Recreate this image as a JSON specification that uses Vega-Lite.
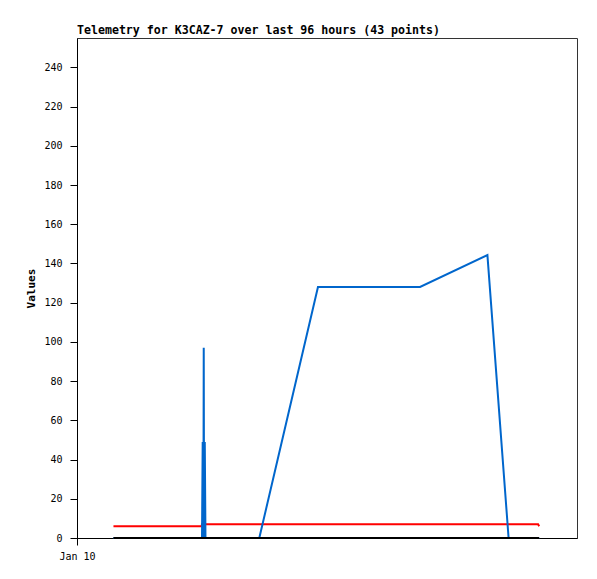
{
  "$schema": "https://vega.github.io/schema/vega-lite/v6.json",
  "autosize": {"type": "none"},
  "padding": {"left": 77, "top": 38, "right": 20, "bottom": 41},
  "width": 500,
  "height": 500,
  "background": "white",
  "title": {
    "text": "Telemetry for K3CAZ-7 over last 96 hours (43 points)",
    "anchor": "start",
    "frame": "group",
    "font": "DejaVu Sans Mono",
    "fontSize": 11.6,
    "fontWeight": "bold",
    "color": "black",
    "offset": 1
  },
  "config": {
    "view": {"stroke": "#333333", "strokeWidth": 1},
    "axis": {
      "grid": false,
      "domainColor": "black",
      "tickColor": "black",
      "labelColor": "black",
      "labelFont": "DejaVu Sans Mono",
      "labelFontSize": 10,
      "titleFont": "DejaVu Sans Mono",
      "titleFontSize": 11,
      "titleFontWeight": "bold",
      "titleColor": "black",
      "tickSize": 7
    }
  },
  "data": {
    "values": [
      {"t": "2024-01-10T01:45:00Z", "v": 0, "s": "blue"},
      {"t": "2024-01-10T04:00:00Z", "v": 0, "s": "blue"},
      {"t": "2024-01-10T06:00:00Z", "v": 0, "s": "blue"},
      {"t": "2024-01-10T06:02:00Z", "v": 49, "s": "blue"},
      {"t": "2024-01-10T06:04:00Z", "v": 0, "s": "blue"},
      {"t": "2024-01-10T06:05:00Z", "v": 97, "s": "blue"},
      {"t": "2024-01-10T06:06:00Z", "v": 0, "s": "blue"},
      {"t": "2024-01-10T06:08:00Z", "v": 49, "s": "blue"},
      {"t": "2024-01-10T06:10:00Z", "v": 0, "s": "blue"},
      {"t": "2024-01-10T08:45:00Z", "v": 0, "s": "blue"},
      {"t": "2024-01-10T11:34:00Z", "v": 128, "s": "blue"},
      {"t": "2024-01-10T16:28:00Z", "v": 128, "s": "blue"},
      {"t": "2024-01-10T19:42:00Z", "v": 144.3, "s": "blue"},
      {"t": "2024-01-10T20:43:00Z", "v": 0, "s": "blue"},
      {"t": "2024-01-10T22:11:00Z", "v": 0, "s": "blue"},
      {"t": "2024-01-10T01:45:00Z", "v": 6, "s": "red"},
      {"t": "2024-01-10T05:59:00Z", "v": 6, "s": "red"},
      {"t": "2024-01-10T06:00:00Z", "v": 7, "s": "red"},
      {"t": "2024-01-10T22:08:00Z", "v": 7, "s": "red"},
      {"t": "2024-01-10T22:11:00Z", "v": 6, "s": "red"},
      {"t": "2024-01-10T01:45:00Z", "v": 0, "s": "black"},
      {"t": "2024-01-10T22:11:00Z", "v": 0, "s": "black"}
    ]
  },
  "encoding": {
    "x": {
      "field": "t",
      "type": "temporal",
      "scale": {"type": "utc", "domain": ["2024-01-10T00:00:00Z", "2024-01-11T00:00:00Z"]},
      "axis": {
        "title": null,
        "values": [{"year": 2024, "month": 1, "date": 10, "utc": true}],
        "format": "%b %d",
        "labelPadding": 6,
        "labelAlign": "center"
      }
    },
    "y": {
      "field": "v",
      "type": "quantitative",
      "scale": {"domain": [0, 255], "nice": false},
      "axis": {
        "title": "Values",
        "values": [0, 20, 40, 60, 80, 100, 120, 140, 160, 180, 200, 220, 240],
        "labelPadding": 8,
        "titlePadding": 7
      }
    }
  },
  "layer": [
    {
      "transform": [{"filter": "datum.s === 'red'"}],
      "mark": {"type": "line", "color": "#ff0000", "strokeWidth": 2}
    },
    {
      "transform": [{"filter": "datum.s === 'blue'"}],
      "mark": {"type": "line", "color": "#0066cc", "strokeWidth": 2}
    },
    {
      "transform": [{"filter": "datum.s === 'black'"}],
      "mark": {"type": "line", "color": "#000000", "strokeWidth": 2}
    }
  ]
}
